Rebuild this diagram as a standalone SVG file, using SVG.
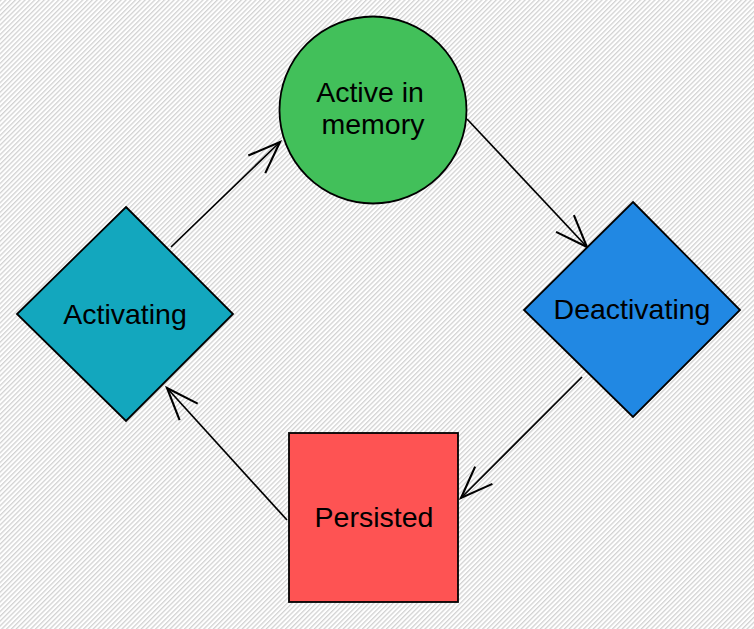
<svg xmlns="http://www.w3.org/2000/svg" width="754" height="629" viewBox="0 0 754 629">
<style>
.lbl{font-family:"Liberation Sans",Arial,sans-serif;font-size:28.5px;fill:#000;text-anchor:middle}
.node{stroke:#000;stroke-width:1.8}
.edge{fill:none;stroke:#000;stroke-width:1.7}
</style>
<defs>
<pattern id="hatch" patternUnits="userSpaceOnUse" width="3.4" height="10" patternTransform="rotate(45)">
<rect x="0" y="0" width="1.3" height="10" fill="#d2d2d2"/>
</pattern>
<marker id="arr" markerUnits="userSpaceOnUse" markerWidth="40" markerHeight="40" viewBox="-32 -16 36 32" refX="0" refY="0" orient="auto" overflow="visible">
<path d="M -29 -11 L 0 0 L -29 11" fill="none" stroke="#000" stroke-width="1.9"/>
</marker>
</defs>
<rect width="754" height="629" fill="#fff"/>
<rect width="754" height="629" fill="url(#hatch)"/>
<g id="connectors">
<line class="edge" x1="171" y1="247" x2="280" y2="142" marker-end="url(#arr)"/>
<line class="edge" x1="467" y1="119" x2="587" y2="247" marker-end="url(#arr)"/>
<line class="edge" x1="582" y1="377" x2="461" y2="498" marker-end="url(#arr)"/>
<line class="edge" x1="287" y1="520" x2="167" y2="388" marker-end="url(#arr)"/>
</g>
<g id="active">
<circle class="node" cx="373" cy="110" r="93.5" fill="#42c05a"/>
<text class="lbl" x="370" y="102">Active in</text>
<text class="lbl" x="373" y="134">memory</text>
</g>
<g id="deactivating">
<polygon class="node" points="633,202 740,310 633,417 524,310" fill="#2188e3"/>
<text class="lbl" x="632" y="319">Deactivating</text>
</g>
<g id="persisted">
<rect class="node" x="289" y="433" width="169" height="169" fill="#fe5353" stroke="#222"/>
<text class="lbl" x="374" y="527">Persisted</text>
</g>
<g id="activating">
<polygon class="node" points="126,207 233,314 126,421 17,314" fill="#13a7be"/>
<text class="lbl" x="125" y="324">Activating</text>
</g>
</svg>
